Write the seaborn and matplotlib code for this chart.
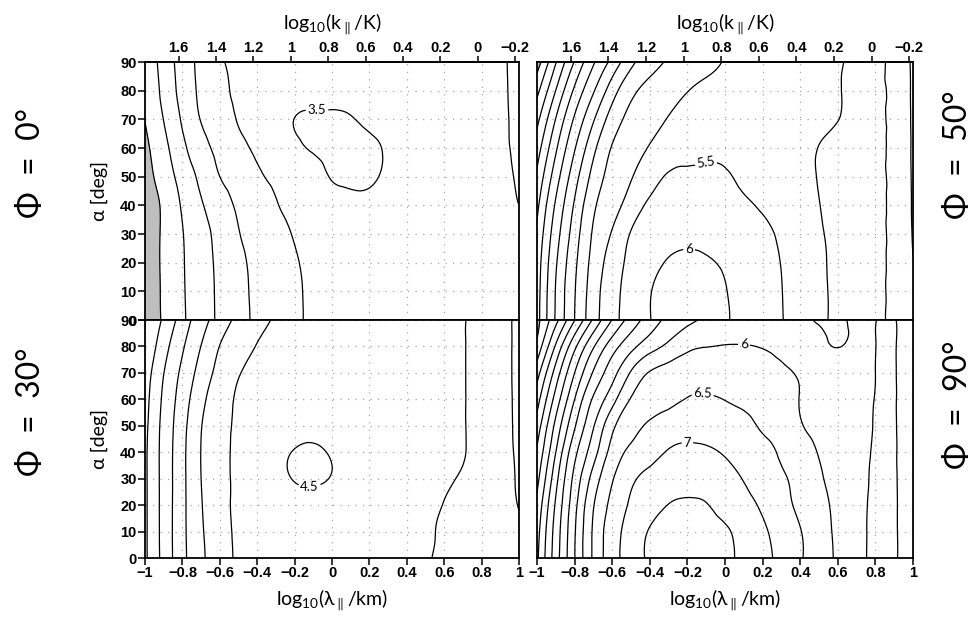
import numpy as np
import matplotlib
matplotlib.use("Agg")
import matplotlib.pyplot as plt
from matplotlib.tri import Triangulation, UniformTriRefiner
import seaborn as sns

# ---------------- data ----------------
x_log_lambda = [-1.0, -0.9, -0.8, -0.7, -0.6, -0.5, -0.4, -0.3, -0.2, -0.1, 0.0,
                0.1, 0.2, 0.3, 0.4, 0.5, 0.6, 0.7, 0.8, 0.9, 1.0]
alpha_deg = [0, 10, 20, 30, 40, 50, 60, 70, 80, 90]

# rows: alpha = 0 ... 90 ; columns: x_log_lambda
z_phi0 = [
    [0.70, 1.06, 1.44, 1.77, 2.08, 2.35, 2.58, 2.75, 2.93, 3.06, 3.13, 3.18, 3.21, 3.22, 3.21, 3.19, 3.16, 3.13, 3.10, 3.07, 3.05],
    [0.70, 1.07, 1.45, 1.78, 2.09, 2.37, 2.59, 2.76, 2.93, 3.07, 3.14, 3.20, 3.23, 3.24, 3.23, 3.21, 3.18, 3.14, 3.10, 3.07, 3.04],
    [0.70, 1.08, 1.46, 1.80, 2.11, 2.40, 2.61, 2.79, 2.96, 3.10, 3.18, 3.24, 3.27, 3.28, 3.26, 3.23, 3.19, 3.15, 3.10, 3.06, 3.03],
    [0.70, 1.08, 1.48, 1.83, 2.16, 2.48, 2.67, 2.85, 3.03, 3.17, 3.26, 3.32, 3.34, 3.33, 3.30, 3.25, 3.20, 3.15, 3.09, 3.04, 3.01],
    [0.70, 1.09, 1.55, 1.95, 2.29, 2.57, 2.77, 2.97, 3.13, 3.27, 3.36, 3.42, 3.43, 3.40, 3.35, 3.28, 3.21, 3.14, 3.08, 3.03, 3.00],
    [0.80, 1.23, 1.69, 2.12, 2.50, 2.71, 2.93, 3.09, 3.23, 3.37, 3.52, 3.56, 3.54, 3.45, 3.36, 3.27, 3.19, 3.13, 3.08, 3.03, 2.99],
    [0.89, 1.36, 1.88, 2.33, 2.64, 2.88, 3.08, 3.25, 3.42, 3.53, 3.58, 3.60, 3.56, 3.46, 3.36, 3.27, 3.19, 3.13, 3.08, 3.03, 2.97],
    [1.01, 1.51, 2.06, 2.52, 2.78, 3.03, 3.19, 3.35, 3.505, 3.54, 3.55, 3.52, 3.43, 3.35, 3.27, 3.20, 3.14, 3.11, 3.08, 3.03, 2.96],
    [1.07, 1.63, 2.17, 2.60, 2.89, 3.08, 3.19, 3.28, 3.35, 3.39, 3.40, 3.38, 3.33, 3.27, 3.21, 3.16, 3.13, 3.10, 3.08, 3.03, 2.95],
    [1.13, 1.69, 2.22, 2.63, 2.95, 3.08, 3.17, 3.24, 3.29, 3.32, 3.33, 3.31, 3.27, 3.22, 3.17, 3.14, 3.12, 3.10, 3.08, 3.03, 2.94],
]

z_phi30 = [
    [1.41, 2.16, 2.86, 3.41, 3.79, 4.06, 4.17, 4.25, 4.30, 4.32, 4.30, 4.26, 4.20, 4.14, 4.08, 4.02, 3.95, 3.85, 3.77, 3.67, 3.58],
    [1.41, 2.17, 2.87, 3.44, 3.81, 4.08, 4.20, 4.28, 4.32, 4.34, 4.32, 4.28, 4.22, 4.16, 4.10, 4.03, 3.97, 3.87, 3.76, 3.66, 3.54],
    [1.41, 2.17, 2.87, 3.47, 3.84, 4.10, 4.23, 4.31, 4.34, 4.36, 4.34, 4.30, 4.25, 4.19, 4.13, 4.07, 3.99, 3.87, 3.75, 3.62, 3.49],
    [1.41, 2.17, 2.87, 3.50, 3.86, 4.09, 4.23, 4.38, 4.52, 4.56, 4.48, 4.39, 4.31, 4.24, 4.17, 4.11, 4.04, 3.96, 3.80, 3.64, 3.46],
    [1.41, 2.17, 2.87, 3.51, 3.87, 4.09, 4.24, 4.38, 4.52, 4.55, 4.47, 4.38, 4.30, 4.23, 4.17, 4.12, 4.07, 4.02, 3.84, 3.64, 3.44],
    [1.37, 2.15, 2.83, 3.48, 3.84, 4.08, 4.20, 4.29, 4.36, 4.40, 4.38, 4.33, 4.27, 4.21, 4.16, 4.12, 4.07, 4.02, 3.84, 3.64, 3.42],
    [1.32, 2.09, 2.74, 3.37, 3.78, 4.06, 4.17, 4.25, 4.30, 4.32, 4.31, 4.28, 4.24, 4.19, 4.15, 4.11, 4.07, 4.02, 3.84, 3.64, 3.41],
    [1.23, 1.99, 2.61, 3.20, 3.65, 3.97, 4.10, 4.18, 4.23, 4.26, 4.26, 4.24, 4.21, 4.17, 4.14, 4.10, 4.07, 4.02, 3.84, 3.64, 3.40],
    [1.07, 1.80, 2.44, 3.01, 3.51, 3.77, 4.02, 4.10, 4.15, 4.18, 4.19, 4.18, 4.16, 4.14, 4.12, 4.09, 4.07, 4.02, 3.84, 3.64, 3.40],
    [0.99, 1.58, 2.23, 2.79, 3.26, 3.60, 3.85, 4.03, 4.08, 4.11, 4.12, 4.12, 4.11, 4.10, 4.10, 4.09, 4.07, 4.02, 3.84, 3.64, 3.40],
]

z_phi50 = [
    [1.81, 3.06, 4.00, 4.80, 5.36, 5.71, 5.99, 6.12, 6.20, 6.18, 6.04, 5.87, 5.69, 5.52, 5.31, 5.09, 4.91, 4.74, 4.58, 4.41, 4.15],
    [1.78, 3.03, 3.97, 4.76, 5.33, 5.69, 5.98, 6.12, 6.19, 6.16, 6.02, 5.85, 5.68, 5.51, 5.30, 5.09, 4.91, 4.74, 4.58, 4.41, 4.08],
    [1.73, 2.94, 3.89, 4.67, 5.23, 5.62, 5.86, 6.03, 6.08, 6.04, 5.95, 5.80, 5.64, 5.49, 5.29, 5.08, 4.90, 4.74, 4.58, 4.41, 4.01],
    [1.59, 2.78, 3.75, 4.56, 5.04, 5.53, 5.72, 5.84, 5.90, 5.88, 5.82, 5.72, 5.60, 5.43, 5.24, 5.05, 4.89, 4.74, 4.58, 4.41, 3.97],
    [1.38, 2.57, 3.56, 4.41, 4.83, 5.22, 5.58, 5.68, 5.72, 5.70, 5.64, 5.56, 5.45, 5.30, 5.15, 5.01, 4.86, 4.74, 4.58, 4.41, 3.95],
    [1.10, 2.27, 3.29, 4.17, 4.67, 4.97, 5.28, 5.55, 5.56, 5.56, 5.53, 5.44, 5.33, 5.22, 5.10, 4.98, 4.84, 4.74, 4.58, 4.41, 3.94],
    [0.76, 1.92, 2.96, 3.87, 4.53, 4.78, 5.03, 5.20, 5.35, 5.43, 5.42, 5.36, 5.27, 5.18, 5.09, 4.99, 4.84, 4.74, 4.58, 4.41, 3.93],
    [0.36, 1.52, 2.57, 3.45, 4.23, 4.62, 4.83, 5.02, 5.14, 5.22, 5.25, 5.23, 5.19, 5.15, 5.12, 5.08, 5.01, 4.80, 4.58, 4.41, 3.92],
    [-0.14, 1.01, 2.09, 2.95, 3.77, 4.38, 4.64, 4.82, 4.99, 5.08, 5.12, 5.13, 5.12, 5.11, 5.10, 5.08, 5.03, 4.80, 4.58, 4.41, 3.91],
    [-0.77, 0.47, 1.53, 2.44, 3.15, 3.87, 4.29, 4.56, 4.71, 4.87, 5.02, 5.04, 5.06, 5.07, 5.08, 5.07, 5.05, 4.82, 4.58, 4.41, 3.90],
]

z_phi90 = [
    [2.40, 3.77, 4.98, 6.08, 6.80, 7.25, 7.56, 7.68, 7.74, 7.72, 7.62, 7.38, 7.14, 6.87, 6.55, 6.23, 5.93, 5.65, 5.36, 5.05, 4.78],
    [2.30, 3.71, 4.95, 6.07, 6.77, 7.21, 7.53, 7.64, 7.69, 7.66, 7.56, 7.33, 7.08, 6.80, 6.52, 6.21, 5.91, 5.65, 5.36, 5.05, 4.78],
    [2.12, 3.57, 4.84, 5.97, 6.63, 7.07, 7.32, 7.51, 7.56, 7.52, 7.34, 7.15, 6.93, 6.66, 6.40, 6.14, 5.89, 5.65, 5.37, 5.05, 4.78],
    [1.85, 3.33, 4.65, 5.70, 6.46, 6.91, 7.12, 7.25, 7.32, 7.28, 7.16, 6.98, 6.78, 6.57, 6.33, 6.06, 5.84, 5.64, 5.40, 5.05, 4.78],
    [1.57, 3.00, 4.36, 5.29, 6.19, 6.60, 6.85, 7.03, 7.08, 7.05, 6.97, 6.82, 6.66, 6.43, 6.19, 5.98, 5.80, 5.63, 5.43, 5.05, 4.78],
    [1.21, 2.64, 3.94, 4.96, 5.88, 6.32, 6.60, 6.74, 6.82, 6.83, 6.78, 6.66, 6.43, 6.25, 6.03, 5.90, 5.78, 5.63, 5.46, 5.05, 4.78],
    [0.79, 2.20, 3.50, 4.57, 5.31, 6.03, 6.20, 6.37, 6.52, 6.55, 6.49, 6.39, 6.27, 6.13, 5.99, 5.87, 5.74, 5.62, 5.48, 5.05, 4.78],
    [0.29, 1.71, 3.00, 4.05, 4.81, 5.55, 6.03, 6.17, 6.26, 6.30, 6.28, 6.23, 6.15, 6.07, 5.96, 5.83, 5.72, 5.61, 5.50, 5.05, 4.78],
    [-0.36, 1.07, 2.38, 3.45, 4.27, 4.85, 5.29, 5.62, 5.90, 5.99, 6.02, 6.02, 5.98, 5.88, 5.72, 5.60, 5.49, 5.60, 5.51, 5.05, 4.78],
    [-0.65, 0.35, 1.48, 2.58, 3.52, 4.20, 4.75, 5.12, 5.37, 5.58, 5.70, 5.75, 5.74, 5.68, 5.58, 5.48, 5.46, 5.58, 5.52, 5.05, 4.78],
]

contour_levels = [-0.5, 0.0, 0.5, 1.0, 1.5, 2.0, 2.5, 3.0, 3.5, 4.0,
                  4.5, 5.0, 5.5, 6.0, 6.5, 7.0, 7.5]

panel_titles = ["Φ  =  0°", "Φ  =  50°", "Φ  =  30°", "Φ  =  90°"]
grey_below = [1.0, -0.5, 1.0, -0.5]           # shaded region below this value
label_levels = [[3.5], [5.5, 6.0], [4.5], [6.0, 6.5, 7.0]]
label_spots = [[(-0.08, 73)], [(-0.12, 58), (-0.19, 27)], [(-0.12, 27)],
               [(0.10, 79), (-0.12, 61), (-0.20, 43)]]

x_ticks = [-1.0, -0.8, -0.6, -0.4, -0.2, 0.0, 0.2, 0.4, 0.6, 0.8, 1.0]
x_tick_labels = ["−1", "−0.8", "−0.6", "−0.4", "−0.2", "0", "0.2", "0.4", "0.6", "0.8", "1"]
k_ticks = [1.6, 1.4, 1.2, 1.0, 0.8, 0.6, 0.4, 0.2, 0.0, -0.2]
k_tick_labels = ["1.6", "1.4", "1.2", "1", "0.8", "0.6", "0.4", "0.2", "0", "−0.2"]
y_ticks = [0, 10, 20, 30, 40, 50, 60, 70, 80, 90]
y_tick_labels = ["0", "10", "20", "30", "40", "50", "60", "70", "80", "90"]
K_OFFSET = 0.78   # log10(k/K) = K_OFFSET - log10(lambda/km)

# ---------------- style ----------------
sns.set_theme(style="white")
plt.rcParams.update({
    "font.family": ["Lato", "DejaVu Sans"],
    "mathtext.default": "regular",
    "text.color": "black",
    "axes.labelcolor": "black",
    "axes.edgecolor": "black",
    "axes.linewidth": 1.3,
    "xtick.color": "black",
    "ytick.color": "black",
})
TICK_FONT = {"family": "Liberation Sans", "weight": "bold", "size": 10.5}
LABEL_KW = dict(fontsize=14, fontweight="normal", color="black")

W, H = 973, 619
fig = plt.figure(figsize=(W / 100, H / 100), dpi=100)

boxes = [(145, 62, 519, 320), (537, 62, 913, 320),
         (145, 320, 519, 558), (537, 320, 913, 558)]
fields = [z_phi0, z_phi50, z_phi30, z_phi90]

# smooth (cubic) refinement of the gridded field, done by matplotlib.tri
xs = np.array(x_log_lambda)
ys = np.array(alpha_deg, dtype=float)
Xg, Yg = np.meshgrid(xs, ys)
nx, ny = len(xs), len(ys)
triangles = []
for j in range(ny - 1):
    for k in range(nx - 1):
        p = j * nx + k
        triangles += [[p, p + 1, p + nx + 1], [p, p + nx + 1, p + nx]]
ASPECT = 45.0
tri0 = Triangulation(Xg.ravel(), Yg.ravel() / ASPECT, np.array(triangles))
refiner = UniformTriRefiner(tri0)

for i, (box, zdata) in enumerate(zip(boxes, fields)):
    l, t, r, b = box
    ax = fig.add_axes([l / W, 1 - b / H, (r - l) / W, (b - t) / H])
    Z = np.array(zdata, dtype=float)
    top_row = i < 2
    left_col = i % 2 == 0

    tri_r, z_r = refiner.refine_field(Z.ravel(), subdiv=3)
    tri_p = Triangulation(tri_r.x, tri_r.y * ASPECT, tri_r.triangles)

    ax.tricontourf(tri_p, z_r, levels=[-50, grey_below[i]], colors=["#bebebe"], zorder=2)
    plain = [v for v in contour_levels if v not in label_levels[i]]
    ax.tricontour(tri_p, z_r, levels=plain, colors="black",
                  linewidths=0.9, zorder=3, negative_linestyles="solid")
    cs_lab = ax.tricontour(tri_p, z_r, levels=label_levels[i], colors="black",
                           linewidths=0.9, zorder=3, negative_linestyles="solid")
    ax.clabel(cs_lab, manual=label_spots[i], fmt="%g",
              fontsize=9.5, inline=True, inline_spacing=2)

    ax.set_xlim(-1, 1)
    ax.set_ylim(0, 90)
    ax.set_xticks(x_ticks)
    ax.set_yticks(y_ticks)
    ax.grid(True, color="#a8a8a8", linestyle=(0, (1, 5)), linewidth=0.9, zorder=1)
    ax.set_axisbelow(True)
    for s in ax.spines.values():
        s.set_zorder(5)

    if top_row:
        ax.tick_params(axis="x", bottom=False, labelbottom=False)
        sec = ax.secondary_xaxis("top", functions=(lambda v: K_OFFSET - v,
                                                   lambda v: K_OFFSET - v))
        sec.set_xticks(k_ticks)
        sec.set_xticklabels(k_tick_labels, fontdict=TICK_FONT)
        sec.tick_params(axis="x", direction="out", length=4, width=1.1, pad=1)
        sec.set_xlabel(r"log$_{10}$(k$_{\parallel}$/K)", labelpad=9, **LABEL_KW)
    else:
        ax.set_xticklabels(x_tick_labels, fontdict=TICK_FONT)
        ax.tick_params(axis="x", bottom=True, direction="out", length=5, width=1.1, pad=1)
        ax.set_xlabel(r"log$_{10}$(λ$_{\parallel}$/km)", labelpad=5, **LABEL_KW)

    if left_col:
        ax.set_yticklabels(y_tick_labels, fontdict=TICK_FONT)
        ax.tick_params(axis="y", left=True, direction="out", length=5, width=1.1, pad=1)
        ax.set_ylabel("α [deg]", labelpad=9, **LABEL_KW)
    else:
        ax.tick_params(axis="y", left=False, labelleft=False)

title_pos = [(31, 163), (958, 155), (31, 412), (958, 405)]
for (tx, ty), txt in zip(title_pos, panel_titles):
    fig.text(tx / W, 1 - ty / H, txt, rotation=90, fontsize=23, fontweight="normal",
             color="black", ha="center", va="center")

fig.savefig("out.png", dpi=100)
